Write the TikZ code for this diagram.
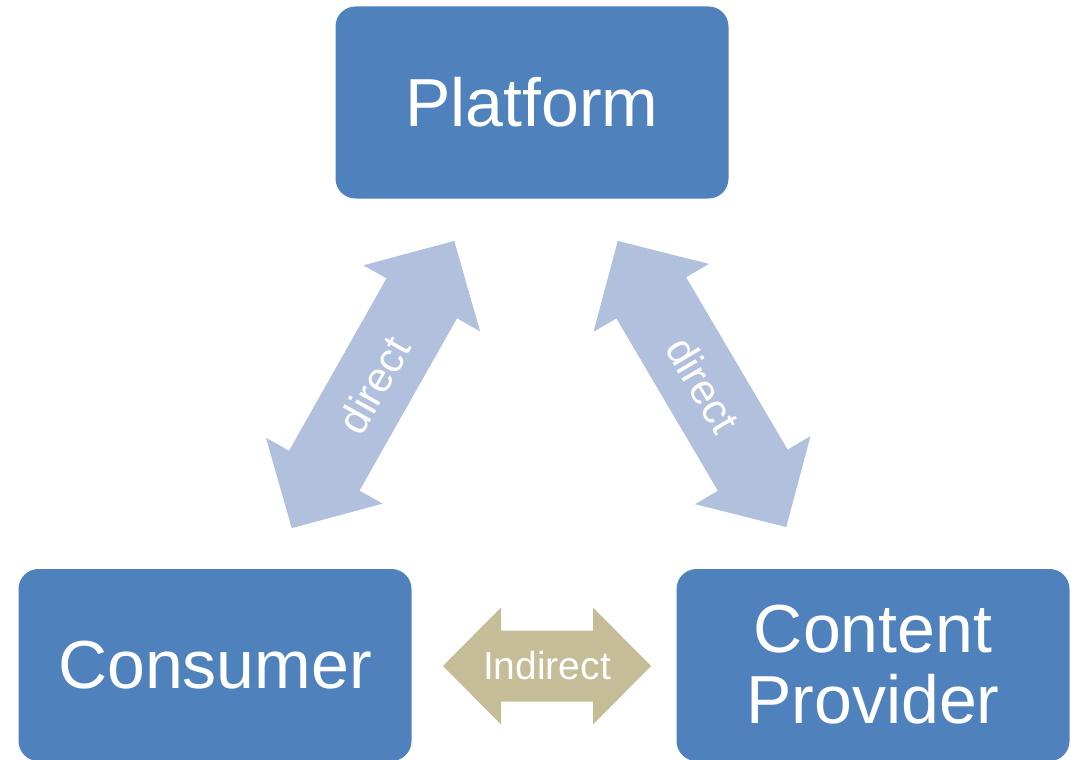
\documentclass[tikz,border=0pt]{standalone}
\usepackage{fontspec}
\setmainfont{Liberation Sans}
\definecolor{boxblue}{HTML}{4F81BD}
\definecolor{arrblue}{HTML}{B1C1DD}
\definecolor{arrtan}{HTML}{C4BD97}
\newcommand{\dblarrowpath}[4]{% half length, head length, half shaft, half head
  (-#1,0) -- (-#1+#2,#4) -- (-#1+#2,#3) -- (#1-#2,#3) -- (#1-#2,#4) -- (#1,0)
  -- (#1-#2,-#4) -- (#1-#2,-#3) -- (-#1+#2,-#3) -- (-#1+#2,-#4) -- cycle}
\tikzset{
  blockbox/.style={fill=boxblue, rounded corners=20pt, minimum width=393pt,
    minimum height=192pt, inner sep=0pt, text=white, align=center,
    font=\fontsize{68}{71}\selectfont},
  arrlabel/.style={text=white, inner sep=0pt}
}
\begin{document}
\begin{tikzpicture}[x=1pt,y=-1pt]
\useasboundingbox (0,0) rectangle (1071,760);
% boxes
\node[blockbox] (platform) at (532,102.5) {Platform};
\node[blockbox] (consumer) at (215,665) {Consumer};
\node[blockbox] (provider) at (873,665) {Content\\Provider};
% left direct arrow
\begin{scope}[shift={(373,384.5)}, rotate=60.5]
  \fill[arrblue] \dblarrowpath{165}{66}{40.5}{67};
\end{scope}
\node[arrlabel, rotate=60.5, font=\fontsize{42}{46}\selectfont] (d1) at (374,385) {direct};
% right direct arrow
\begin{scope}[shift={(702,384)}, rotate=-59.5]
  \fill[arrblue] \dblarrowpath{166}{66}{40.5}{67};
\end{scope}
\node[arrlabel, rotate=-59.5, font=\fontsize{42}{46}\selectfont] (d2) at (703,385) {direct};
% indirect arrow
\begin{scope}[shift={(547,666)}]
  \fill[arrtan] \dblarrowpath{104}{58}{35.5}{58.5};
\end{scope}
\node[arrlabel, font=\fontsize{39}{43}\selectfont] (ind) at (547,666) {Indirect};
\end{tikzpicture}
\end{document}
